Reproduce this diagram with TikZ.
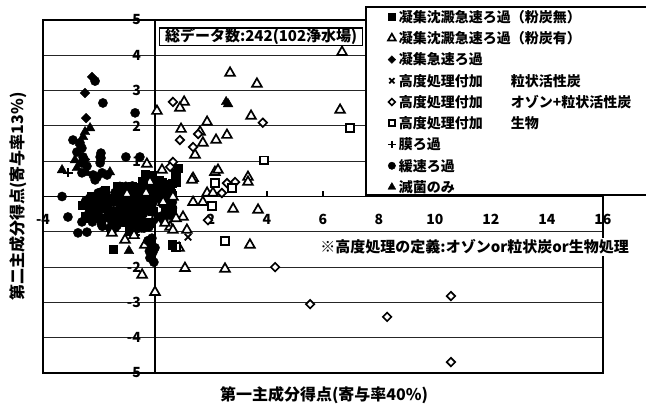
\documentclass[tikz,border=0pt]{standalone}
\usepackage{fontspec}
\setmainfont{Noto Sans CJK JP}
\usetikzlibrary{plotmarks}

\newcommand\fs[1]{\fontsize{#1}{#1}\selectfont\bfseries}

\tikzset{
    grid line/.style={line width=1bp, black!85},
    axis line/.style={line width=1.6bp},
    plot frame/.style={line width=2.3bp},
    tick label/.style={font=\fs{14bp}, inner sep=0pt},
    % series markers
    serA/.style={only marks, mark=square*, mark size=4.2bp},
    serB/.style={only marks, mark=triangle*, mark size=5.6bp, mark options={fill=white, line width=1.7bp}},
    serC/.style={only marks, mark=square*, mark size=3.4bp, mark options={rotate=45}},
    serD/.style={only marks, mark=x, mark size=4.6bp, mark options={line width=1.7bp}},
    serE/.style={only marks, mark=square*, mark size=3bp, mark options={rotate=45, fill=white, line width=1.7bp}},
    serF/.style={only marks, mark=square*, mark size=3.8bp, mark options={fill=white, line width=1.7bp}},
    serG/.style={only marks, mark=+, mark size=4.6bp, mark options={line width=1.7bp}},
    serH/.style={only marks, mark=*, mark size=4.6bp},
    serI/.style={only marks, mark=triangle*, mark size=5.6bp},
}

\begin{document}
\begin{tikzpicture}[x=28bp, y=35.3bp]

    \useasboundingbox (-5.536,-5.963) rectangle (17.536,5.567);

    % grid and axes
    \foreach \y in {-4,...,4}
        \draw[grid line] (-4,\y) -- (16,\y);
    \draw[axis line] (-4,0) -- (16,0);
    \draw[axis line] (0,-5) -- (0,5);
    \foreach \x in {-2,2,4,...,14}
        \draw[axis line] (\x,0) -- (\x,0.15);

    \foreach \y in {-5,...,5}
        \node[tick label, anchor=east] (ylab\y) at (-0.5,\y) {\y};
    \foreach \x in {-4,-2,...,16}
        \node[tick label] (xlab\x) at (\x,-0.64) {\x};

    \draw[plot frame] (-4,-5) rectangle (16,5);

    % dense cluster
    \pgfmathsetseed{11}
    \foreach \i in {1,...,150} {
        \pgfmathsetmacro\blobr{sqrt(rnd)}
        \pgfmathsetmacro\blobt{360*rnd}
        \pgfmathsetmacro\blobx{-0.95+1.65*\blobr*cos(\blobt)}
        \pgfmathsetmacro\bloby{-0.35+0.66*\blobr*sin(\blobt)}
        \draw plot[serH] coordinates {(\blobx,\bloby)};
    }
    \foreach \i in {1,...,50} {
        \pgfmathsetmacro\blobr{sqrt(rnd)}
        \pgfmathsetmacro\blobt{360*rnd}
        \pgfmathsetmacro\blobx{-0.95+1.65*\blobr*cos(\blobt)}
        \pgfmathsetmacro\bloby{-0.35+0.66*\blobr*sin(\blobt)}
        \draw plot[serA] coordinates {(\blobx,\bloby)};
    }
    \foreach \i in {1,...,30} {
        \pgfmathsetmacro\blobx{-0.7+1.7*rnd}
        \pgfmathsetmacro\bloby{0.65*rnd}
        \draw plot[serA] coordinates {(\blobx,\bloby)};
    }

    % open markers
    \draw plot[serB] coordinates {(6.68,4.09) (2.68,3.5) (3.64,3.19) (1.04,2.68) (0.89,2.51)
        (0.07,2.42) (3.43,2.28) (1.86,2.11) (0.93,1.91) (1.61,1.83) (2.18,1.6) (2.57,1.74)
        (1.71,1.52) (1.43,1.18) (-0.29,0.92) (2.14,0.69) (2.25,0.75) (1.36,0.52) (3.32,0.55)
        (3.32,0.41) (1.86,0.1) (2.07,0.1) (1.36,-0.16) (1.71,-0.16) (1.0,-0.58) (2.79,-0.35)
        (3.68,-0.38) (1.14,-0.95) (0.54,-0.86) (0.64,-0.95) (0.36,-0.75) (0.29,-0.16)
        (0.64,-0.01) (0.86,-1.46) (3.39,-1.37) (1.07,-2.03) (2.5,-2.05) (-0.46,-2.22)
        (0,-2.71) (6.61,2.45) (-1.07,-1.23) (-0.36,-1.37) (-1.54,-1.03) (0.25,0.75)
        (-1.0,0.07) (-0.18,0.41) (-0.32,0.1) (1.32,0.47) (0.75,-0.62) (-0.75,-1.1)};
    \draw plot[serE] coordinates {(0.64,2.68) (3.85,2.09) (0.89,1.6) (1.54,1.77) (1.36,1.4)
        (0.64,0.98) (0.54,0.84) (2.57,0.38) (2.86,0.41) (2.39,0.1) (1.89,-0.67) (4.29,-2.0)
        (5.54,-3.05) (10.57,-2.82) (8.29,-3.41) (10.57,-4.69)};
    \draw plot[serF] coordinates {(3.89,1.03) (6.96,1.94) (2.14,0.38) (2.75,0.24)
        (2.04,-0.27) (2.5,-1.26) (0.75,-1.43)};
    \draw plot[serD] coordinates {(1.18,-1.15)};
    \draw plot[serG] coordinates {(-3.11,0.67)};

    % filled markers
    \draw plot[serA] coordinates {(-2.61,-0.24) (-2.21,-0.04) (-1.5,-1.49) (0.61,-1.37)
        (0.82,0.81) (-0.82,0.3) (-0.43,0.35)};
    \draw plot[serC] coordinates {(-2.25,3.39) (-2.5,2.93) (-2.46,2.22) (-2.68,1.46) (-2.5,1.05)};
    \draw plot[serH] coordinates {(-2.14,3.27) (-1.86,2.65) (-0.71,2.37) (-1.93,1.23)
        (-1.93,1.09) (-1.04,1.12) (-0.54,1.12) (-2.93,1.6) (-2.68,1.52) (-2.61,1.37)
        (-2.79,1.26) (-2.57,1.12) (-2.61,0.95) (-2.43,0.86) (-2.61,0.67) (-2.21,0.61)
        (-1.89,0.67) (-1.96,1.12) (-1.96,0.95) (-2.07,0.55) (-1.71,0.61) (-2.14,0.47)
        (-3.32,0.0) (-3.11,-0.58) (-2.61,-0.72) (-2.75,-1.03) (-2.43,-1.01)
        (-0.11,-1.18) (-0.14,-1.37) (-0.07,-1.57) (-0.18,-1.74) (-0.04,-1.86)
        (-0.25,-1.25) (0.0,-1.45) (-0.2,-1.55)};
    \draw plot[serI] coordinates {(-2.32,1.94) (-3.32,0.75) (-2.86,1.03) (-2.79,0.81)
        (-2.57,1.69) (-2.5,1.83) (-1.61,0.69) (-2.43,0.67) (2.54,2.68) (2.61,2.62)
        (-0.93,-1.54)};

    % data count box
    \node[draw, line width=1.4bp, fill=white, anchor=north west, inner xsep=3bp, inner ysep=0.5bp,
        minimum width=203bp, minimum height=15bp, font=\fs{15bp}] (count) at (0.14,4.79)
        {総データ数:242(102浄水場)};

    % legend
    \draw[line width=1.4bp, fill=white] (7.54,0.04) rectangle (18,5.37);
    \foreach \s/\t [count=\i from 0] in {serA/凝集沈澱急速ろ過（粉炭無）, serB/凝集沈澱急速ろ過（粉炭有）,
        serC/凝集急速ろ過, serD/高度処理付加　　粒状活性炭, serE/高度処理付加　　オゾン+粒状活性炭,
        serF/高度処理付加　　生物, serG/膜ろ過, serH/緩速ろ過, serI/滅菌のみ} {
        \pgfmathsetmacro\ly{5.085-0.602*\i}
        \draw plot[\s, every mark/.append style={scale=0.8}] coordinates {(8.46,\ly)};
        \node[anchor=west, inner sep=0pt, font=\fs{14bp}] (leg\i) at (8.7,\ly) {\t};
    }

    % note and axis titles
    \node[anchor=west, fill=white, inner sep=1.5bp, font=\fs{15bp}] (note) at (5.85,-1.43)
        {※高度処理の定義:オゾンor粒状炭or生物処理};
    \node[font=\fs{16bp}] (xtitle) at (6.04,-5.62) {第一主成分得点(寄与率40\%)};
    \node[font=\fs{16bp}, rotate=90] (ytitle) at (-4.89,0) {第二主成分得点(寄与率13\%)};

\end{tikzpicture}
\end{document}
